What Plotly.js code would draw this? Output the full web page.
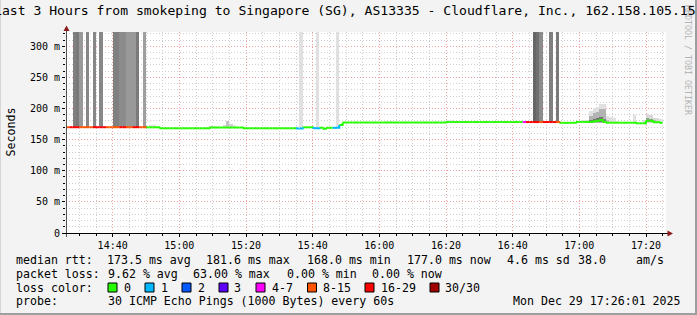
<!DOCTYPE html>
<html><head><meta charset="utf-8">
<script src="https://cdn.plot.ly/plotly-3.0.1.min.js"></script>
<style>html,body{margin:0;padding:0;background:#f3f3f3;}#chart{width:697px;height:315px;}</style>
</head><body><div id="chart"></div>
<script>
// ---------------- data ----------------
const titleText = "Last 3 Hours from smokeping to Singapore (SG), AS13335 - Cloudflare, Inc., 162.158.105.15";
const startUTC = [2025, 11, 29, 14, 26, 0];   // 2025-12-29 14:26:00
const stepSeconds = 60;
const spanMinutes = 180;

// median RTT per 60 s step (ms)
const medianMs = [
 170,170,170,170,170,170,170,170,170,170,170,170,170,170,170,170,170,170,170,170,170,170,170,170,
 169.8,169.8,169.8,169.8,
 168.3,168.3,168.3,168.3,168.3,168.3,168.3,168.3,168.3,168.3,168.3,168.3,168.3,168.3,168.3,
 169.5,169.5,169.5,169.5,169.5,169.5,169.5,169.5,169.5,169.5,
 168.3,168.3,168.3,168.3,168.3,168.3,168.3,168.3,168.3,168.3,168.3,168.3,168.3,168.3,168.3,168.3,
 168.0,168.0,
 169.8,169.8,169.8,
 168.5,168.5,
 169,167.5,169,169,
 169,169,
 173.5,
 177.5,177.5,177.5,177.5,177.5,177.5,177.5,177.5,177.5,177.5,177.5,177.5,177.5,177.5,177.5,177.5,
 177.5,177.5,177.5,177.5,177.5,177.5,177.5,177.5,177.5,177.5,177.5,177.5,177.5,177.5,177.5,
 178.3,178.3,178.3,178.3,178.3,178.3,178.3,178.3,178.3,178.3,178.3,178.3,178.3,178.3,178.3,178.3,178.3,
 178.3,178.3,178.3,178.3,178.3,178.3,178.3,178.3,178.3,178.3,178.3,178.3,178.3,178.3,178.3,178.3,178.3,
 177,177,177,177,177,
 178.5,178.5,178.5,178.5,
 178.8,179.5,180.5,181.6,178.5,
 177.2,177.2,177.2,177.2,177.2,177.2,177.2,177.2,177.2,
 176.3,176.3,176.3,
 180.5,180.5,
 178,178,177
];

// lost pings (of 30) per step
const lossCount = [
 12,18,19,18,12,12,12,12,18,18,18,18,12,12,12,12,18,18,12,12,18,18,12,12,
 0,0,0,0,0,0,0,0,0,0,0,0,0,0,0,0,0,0,0,0,0,0,0,0,0,0,0,0,0,0,0,0,0,0,0,0,0,0,0,0,0,0,0,0,0,
 1,1,0,0,0,1,1,0,0,0,0,1,1,
 0,0,0,0,0,0,0,0,0,0,0,0,0,0,0,0,0,0,0,0,0,0,0,0,0,0,0,0,0,0,0,0,0,0,0,0,0,0,0,0,0,0,0,0,0,0,0,0,0,0,0,0,0,0,0,
 5,18,18,18,18,12,18,18,18,18,12,
 0,0,0,0,0,0,0,0,0,0,0,0,0,0,0,0,0,0,0,0,0,0,0,0,0,0,0,0,0,0,0
];

// smoke bands: step index, low / high RTT (ms), ping density (0..1)
const smokeStep = [2,3,4,6,8,10,14,15,16,17,18,19,20,21,23,
 25,26,43,44,45,47,48,49,50,
 70,75,81,
 96,97,114,115,122,130,
 140,141,142,145,147,
 155,156,157,157,157,158,158,158,159,159,159,160,160,160,161,161,161,
 162,162,163,164,165,170,173,174,174,175,175,176,176,177,178];
const smokeLowMs = [171,171,171,171,171,171,171,171,171,171,171,171,171,171,171,
 170,170,169.5,169.5,169.5,169.5,169.5,169.5,169.5,
 170,170,170,
 177.5,177.5,178,178,178,178,
 179,179,179,179,179,
 178.5,178.5,176,177,177.5,176,177,178,176,177,178,176,177.5,178.5,176,177,177.5,
 176,176.5,176,176,176.5,176.5,176,177,178,177,178,177,177.5,177,177];
const smokeHighMs = [400,400,400,400,400,400,400,400,400,400,400,400,400,400,400,
 173.5,173.5,172.5,172.5,172.5,174,180.5,175,173,
 400,400,400,
 179.5,179.5,182,181.5,180.5,180.5,
 400,400,400,400,400,
 181,182,196,188,181,201,193,184,202,194,185,207.5,200,186,207.5,199,184,
 187.5,182,186,185,180,190,181,191,184.5,190,184,185.5,181.5,185,184];
const smokeDensity = [0.5,0.52,0.4,0.47,0.47,0.47,0.5,0.5,0.45,0.45,0.4,0.4,0.4,0.52,0.38,
 0.12,0.12,0.12,0.12,0.1,0.15,0.24,0.18,0.1,
 0.12,0.12,0.12,
 0.1,0.1,0.1,0.1,0.08,0.08,
 0.6,0.56,0.45,0.5,0.52,
 0.1,0.15,0.12,0.3,0.55,0.12,0.3,0.55,0.12,0.3,0.55,0.12,0.3,0.55,0.12,0.3,0.5,
 0.12,0.25,0.12,0.12,0.1,0.12,0.15,0.15,0.4,0.15,0.4,0.15,0.3,0.15,0.12];

// loss colour legend
const lossBins = ["0","1","2","3","4-7","8-15","16-29","30/30"];
const lossBinMax = [0,1,2,3,7,15,29,30];
const lossColors = ["#26ff00","#00b8ff","#0059ff","#5e00ff","#ff00ff","#ff5500","#ff0000","#a00000"];

// axes
const yTickVals = [0,50,100,150,200,250,300];
const yTickText = ["0","50 m","100 m","150 m","200 m","250 m","300 m"];
const yAxisTitle = "Seconds";
const yMaxMs = 323;

// statistics legend
const rttLabel = "median rtt:";
const rttStats = ["173.5 ms avg","181.6 ms max","168.0 ms min","177.0 ms now","4.6 ms sd","38.0","am/s"];
const lossLabel = "packet loss:";
const lossStats = ["9.62 % avg","63.00 % max","0.00 % min","0.00 % now"];
const colorLabel = "loss color:";
const probeLabel = "probe:";
const probeText = "30 ICMP Echo Pings (1000 Bytes) every 60s";
const dateText = "Mon Dec 29 17:26:01 2025";
const creditText = "RRDTOOL / TOBI OETIKER";

// ---------------- build ----------------
const W = 697, H = 315, ML = 66, MR = 31, MT = 32, MB = 82;
const PW = W - ML - MR, PH = H - MT - MB;
const X = px => (px - ML) / PW;
const Y = py => (H - MB - py) / PH;
const FONT = "DejaVu Sans Mono";

const t0 = Date.UTC(...startUTC);
const stepMs = stepSeconds * 1000;
const tAt = k => t0 + k * stepMs;

function binOf(n){ for (let i=0;i<lossBinMax.length;i++) if (n <= lossBinMax[i]) return i; return lossBinMax.length-1; }
function gray(d){ const v = Math.round(255*(1-d)); return `rgb(${v},${v},${v})`; }

const traces = [];
// smoke
traces.push({
  type:'bar', x: smokeStep.map(k => tAt(k) + stepMs/2), base: smokeLowMs,
  y: smokeHighMs.map((h,i) => h - smokeLowMs[i]), width: stepMs,
  marker:{color: smokeDensity.map(gray), line:{width:0}}, hoverinfo:'skip', showlegend:false
});
// median, coloured by loss
const seg = lossColors.map(() => ({x:[], y:[]}));
for (let k = 0; k < medianMs.length; k++){
  const s = seg[binOf(lossCount[k])];
  s.x.push(tAt(k), tAt(k+1)); s.y.push(medianMs[k], medianMs[k]);
  if (k+1 < medianMs.length){ s.x.push(tAt(k+1)); s.y.push(medianMs[k+1]); }
  s.x.push(null); s.y.push(null);
}
seg.forEach((s,i) => { if (s.x.length) traces.push({type:'scatter', mode:'lines', x:s.x, y:s.y,
  line:{color:lossColors[i], width:2}, hoverinfo:'skip', showlegend:false, connectgaps:false}); });

const ann = [];
const txt = (text, px, py, opts={}) => ann.push(Object.assign({text, x:X(px), y:Y(py), xref:'paper', yref:'paper',
  xanchor:'left', yanchor:'middle', showarrow:false, borderpad:0,
  font:{family:FONT, size:11.6, color:'#000'}}, opts));

txt(creditText, 688, 60, {xanchor:'center', textangle:90, font:{family:FONT, size:8.3, color:'#b4b4b4'}});
txt(titleText, -7, 11, {font:{family:FONT, size:13.1, color:'#000'}});
txt(yAxisTitle, 10, 132.5, {xanchor:'center', textangle:-90});

const r1 = 259.5, r2 = 273.5, r3 = 287.5, r4 = 301;
txt(rttLabel, 15, r1);
[106, 205, 306, 406, 506, 577, 635].forEach((px,i) => txt(rttStats[i], px, r1));
txt(lossLabel, 15, r2);
[107, 191.5, 285.5, 371].forEach((px,i) => txt(lossStats[i], px, r2));
txt(colorLabel, 15, r3);
const boxX = [108, 145, 182, 219, 256, 307.5, 365, 430];
const labX = [122.5, 159.5, 196.5, 233, 270.5, 322, 379.5, 444];
const shapes = [];
lossBins.forEach((b,i) => {
  txt(b, labX[i], r3);
  shapes.push({type:'rect', xref:'paper', yref:'paper', x0:X(boxX[i]), x1:X(boxX[i]+9), y0:Y(r3+4.5), y1:Y(r3-4.5),
    fillcolor:lossColors[i], line:{color:'#000', width:1}});
});
txt(probeLabel, 15, r4);
txt(probeText, 107, r4);
txt(dateText, 512, r4);

// axes lines & arrows
shapes.push({type:'line', xref:'paper', yref:'paper', x0:X(66.5), x1:X(66.5), y0:Y(237), y1:Y(30), line:{color:'#555', width:1}});
shapes.push({type:'line', xref:'paper', yref:'paper', x0:X(62), x1:X(668), y0:Y(233.5), y1:Y(233.5), line:{color:'#000', width:1}});
const P = (px,py) => X(px) + ',' + Y(py);
shapes.push({type:'path', xref:'paper', yref:'paper', path:`M${P(63.5,31)} L${P(69.5,31)} L${P(66.5,25.5)} Z`, fillcolor:'#8b1a1a', line:{width:0}});
shapes.push({type:'path', xref:'paper', yref:'paper', path:`M${P(667.5,230.5)} L${P(667.5,236.5)} L${P(673,233.5)} Z`, fillcolor:'#8b1a1a', line:{width:0}});
// frame
shapes.push({type:'rect', xref:'paper', yref:'paper', x0:X(695), x1:X(697.5), y0:Y(315), y1:Y(0), fillcolor:'#9e9e9e', line:{width:0}});
shapes.push({type:'rect', xref:'paper', yref:'paper', x0:X(0), x1:X(697), y0:Y(315.5), y1:Y(313), fillcolor:'#9e9e9e', line:{width:0}});
shapes.push({type:'rect', xref:'paper', yref:'paper', x0:X(-0.5), x1:X(1), y0:Y(313), y1:Y(0), fillcolor:'#d6d6d6', line:{width:0}});

const GRID_DASH = '1px,2px';
const layout = {
  width:W, height:H, margin:{l:ML, r:MR, t:MT, b:MB, pad:0},
  paper_bgcolor:'#f3f3f3', plot_bgcolor:'#ffffff',
  showlegend:false, barmode:'overlay', bargap:0,
  xaxis:{type:'date', range:[t0, tAt(spanMinutes)], dtick:1200000, tick0:'2025-12-29 00:00:00',
    tickformat:'%H:%M', tickfont:{family:FONT, size:10, color:'#000'},
    ticks:'outside', ticklen:3, tickcolor:'#000',
    showgrid:true, gridcolor:'#f0a0a0', griddash:GRID_DASH, gridwidth:1,
    minor:{dtick:300000, showgrid:true, gridcolor:'#cfcfcf', griddash:GRID_DASH, gridwidth:1, ticks:'outside', ticklen:2, tickcolor:'#000'},
    zeroline:false, showline:false, fixedrange:true},
  yaxis:{range:[0, yMaxMs], tickvals:yTickVals, ticktext:yTickText,
    tickfont:{family:FONT, size:10, color:'#000'}, ticks:'outside', ticklen:3, tickcolor:'#000',
    showgrid:true, gridcolor:'#f0a0a0', griddash:GRID_DASH, gridwidth:1,
    minor:{dtick:10, showgrid:true, gridcolor:'#cfcfcf', griddash:GRID_DASH, gridwidth:1, ticks:'outside', ticklen:2, tickcolor:'#000'},
    zeroline:false, showline:false, fixedrange:true},
  annotations:ann, shapes:shapes
};
Plotly.newPlot('chart', traces, layout, {staticPlot:true, displayModeBar:false});
</script></body></html>
